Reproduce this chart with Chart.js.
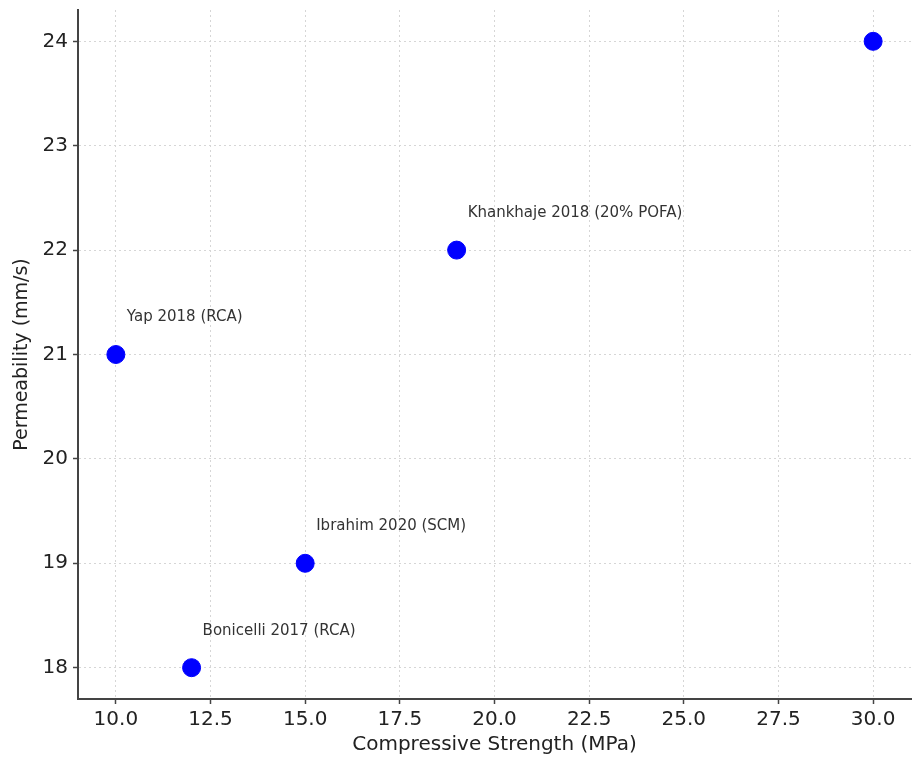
<!DOCTYPE html>
<html>
<head>
<meta charset="utf-8">
<script src="https://cdn.jsdelivr.net/npm/chart.js"></script>
<style>
  html, body { margin: 0; padding: 0; background: #fff; }
  #wrap { width: 923px; height: 757px; }
</style>
</head>
<body>
<div id="wrap"><canvas id="chart" width="923" height="757"></canvas></div>
<script>
// study points: compressive strength vs permeability
const studies = ["Yap 2018 (RCA)", "Bonicelli 2017 (RCA)", "Ibrahim 2020 (SCM)", "Khankhaje 2018 (20% POFA)", ""];
const strength = [10, 12, 15, 19, 30];
const permeability = [21, 18, 19, 22, 24];

const xTicks = [10, 12.5, 15, 17.5, 20, 22.5, 25, 27.5, 30];
const yTicks = [18, 19, 20, 21, 22, 23, 24];

const FONT = "'DejaVu Sans', sans-serif";

// text labels next to each point
const labelPlugin = {
  id: "pointLabels",
  afterDatasetsDraw(chart) {
    const ctx = chart.ctx;
    const meta = chart.getDatasetMeta(0);
    ctx.save();
    ctx.font = "15px " + FONT;
    ctx.fillStyle = "#333";
    ctx.textBaseline = "middle";
    ctx.textAlign = "left";
    meta.data.forEach((pt, i) => {
      if (!studies[i]) return;
      ctx.fillText(studies[i], pt.x + 11, pt.y - 37);
    });
    ctx.restore();
  },
};

const gridOpts = {
  color: "#d6d6d6",
  tickColor: "#444",
  tickBorderDash: [],
  tickLength: 5,
  tickWidth: 1.5,
};
const borderOpts = { color: "#444", width: 2, dash: [2, 3] };

new Chart(document.getElementById("chart").getContext("2d"), {
  type: "scatter",
  data: {
    datasets: [
      {
        data: strength.map((x, i) => ({ x: x, y: permeability[i] })),
        backgroundColor: "#0000ff",
        borderColor: "#0000ff",
        pointRadius: 9,
        pointHoverRadius: 9,
      },
    ],
  },
  options: {
    responsive: false,
    animation: false,
    layout: { padding: { top: 9, right: 12, left: 0, bottom: 0 } },
    plugins: {
      legend: { display: false },
      tooltip: { enabled: false },
    },
    scales: {
      x: {
        type: "linear",
        min: 9,
        max: 31,
        afterBuildTicks: (s) => { s.ticks = xTicks.map((v) => ({ value: v })); },
        afterFit: (s) => { s.height = 58; s.paddingLeft = 0; s.paddingRight = 0; },
        border: borderOpts,
        grid: gridOpts,
        ticks: {
          color: "#222",
          font: { family: FONT, size: 20 },
          padding: 4,
          callback: (v) => Number(v).toFixed(1),
          maxRotation: 0,
          autoSkip: false,
        },
        title: {
          display: true,
          text: "Compressive Strength (MPa)",
          color: "#222",
          font: { family: FONT, size: 20 },
          padding: { top: 0, bottom: 0 },
        },
      },
      y: {
        type: "linear",
        min: 17.7,
        max: 24.3,
        afterBuildTicks: (s) => { s.ticks = yTicks.map((v) => ({ value: v })); },
        afterFit: (s) => { s.width = 78; s.paddingTop = 0; s.paddingBottom = 0; },
        border: borderOpts,
        grid: gridOpts,
        ticks: {
          color: "#222",
          font: { family: FONT, size: 20 },
          padding: 5,
          autoSkip: false,
        },
        title: {
          display: true,
          text: "Permeability (mm/s)",
          color: "#222",
          font: { family: FONT, size: 19 },
          padding: { top: 11, bottom: 4 },
        },
      },
    },
  },
  plugins: [labelPlugin],
});
</script>
</body>
</html>
